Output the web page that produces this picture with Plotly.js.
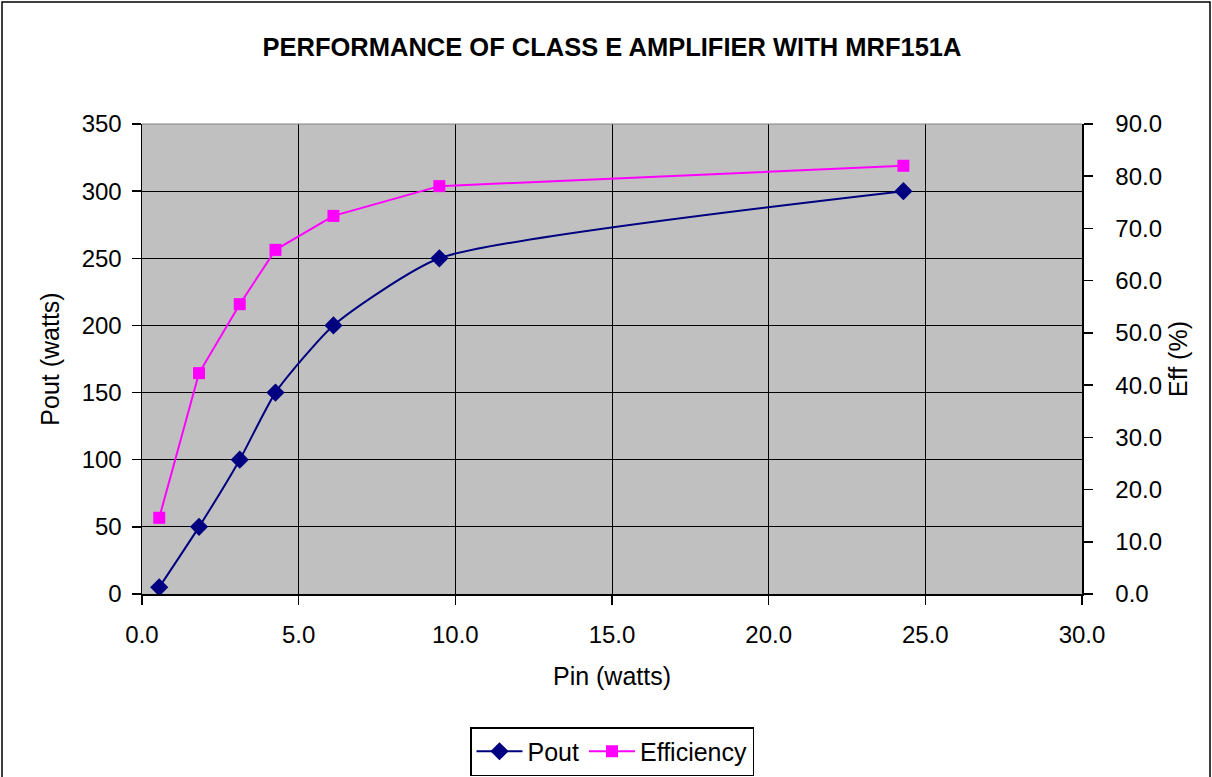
<!DOCTYPE html>
<html>
<head>
<meta charset="utf-8">
<script src="https://cdn.plot.ly/plotly-3.0.1.min.js"></script>
<style>
  html, body { margin: 0; padding: 0; background: #fff; }
  #chart { width: 1212px; height: 777px; }
</style>
</head>
<body>
<div id="chart"></div>
<script>
// Data
const pinWatts   = [0.55, 1.82, 3.12, 4.26, 6.11, 9.49, 24.3];
const poutWatts  = [5, 50, 100, 150, 200, 250, 300];
const efficiency = [14.6, 42.3, 55.5, 65.9, 72.4, 78.1, 82.0];
const xTicks     = [0, 5, 10, 15, 20, 25, 30];
const leftTicks  = [0, 50, 100, 150, 200, 250, 300, 350];
const rightTicks = [0, 10, 20, 30, 40, 50, 60, 70, 80, 90];

const FONT = 'Liberation Sans, Arial, sans-serif';

const traces = [
  {
    x: pinWatts, y: poutWatts, name: 'Pout', type: 'scatter', mode: 'lines+markers',
    line: { color: '#000080', width: 2, shape: 'spline', smoothing: 0.55 },
    marker: { symbol: 'diamond', size: 14, color: '#000080' },
    yaxis: 'y'
  },
  {
    x: pinWatts, y: efficiency, name: 'Efficiency', type: 'scatter', mode: 'lines+markers',
    line: { color: '#FF00FF', width: 2 },
    marker: { symbol: 'square', size: 12, color: '#FF00FF' },
    yaxis: 'y2'
  }
];

const L = 142, R = 1082, T = 124, B = 594, W = 1212, H = 777;
const px = v => (v - L) / (R - L);
const py = v => (B - v) / (B - T);

const layout = {
  width: W, height: H,
  margin: { l: L, r: W - R, t: T, b: H - B, pad: 0, autoexpand: false },
  paper_bgcolor: '#ffffff',
  plot_bgcolor: '#C0C0C0',
  font: { family: FONT, size: 24, color: '#000' },
  showlegend: true,
  title: {
    text: '<b>PERFORMANCE OF CLASS E AMPLIFIER WITH MRF151A</b>',
    font: { family: FONT, size: 25.5, color: '#000' },
    x: 0.5, xanchor: 'center', xref: 'paper',
    y: 1 - 47 / H, yanchor: 'middle', yref: 'container'
  },
  xaxis: {
    range: [0, 30], tickvals: xTicks, tickformat: '.1f', automargin: false,
    showgrid: true, gridcolor: '#000', gridwidth: 1,
    zeroline: false, showline: true, linecolor: '#000', linewidth: 1.5,
    ticks: 'outside', ticklen: 9, tickcolor: '#000', tickwidth: 1.5,
    ticklabelstandoff: 10,
    tickfont: { family: FONT, size: 24 },
    title: { text: 'Pin (watts)', font: { family: FONT, size: 25 }, standoff: 20 }
  },
  yaxis: {
    range: [0, 350], tickvals: leftTicks, automargin: false,
    showgrid: true, gridcolor: '#000', gridwidth: 1,
    zeroline: false, showline: true, linecolor: '#000', linewidth: 1.5,
    ticks: 'outside', ticklen: 9, tickcolor: '#000', tickwidth: 1.5,
    ticklabelstandoff: 5,
    tickfont: { family: FONT, size: 24 },
    title: { text: 'Pout (watts)', font: { family: FONT, size: 25 }, standoff: 15 }
  },
  yaxis2: {
    range: [0, 90], tickvals: rightTicks, tickformat: '.1f', automargin: false,
    overlaying: 'y', side: 'right',
    showgrid: false, zeroline: false, showline: true, linecolor: '#000', linewidth: 1.5,
    ticks: 'outside', ticklen: 9, tickcolor: '#000', tickwidth: 1.5,
    ticklabelstandoff: 18,
    tickfont: { family: FONT, size: 24 },
    title: { text: 'Eff (%)', font: { family: FONT, size: 25 }, standoff: 8 }
  },
  yaxis3: {
    range: [0, 90], tickvals: rightTicks, automargin: false,
    overlaying: 'y', side: 'right',
    showgrid: false, zeroline: false, showline: false,
    ticks: 'inside', ticklen: 9, tickcolor: '#000', tickwidth: 1.5,
    showticklabels: false
  },
  legend: {
    orientation: 'h', x: 0.5, xanchor: 'center', y: py(727), yanchor: 'top',
    bgcolor: '#ffffff', bordercolor: '#000', borderwidth: 1.5,
    font: { family: FONT, size: 25, color: '#000' },
    itemwidth: 46, traceorder: 'normal'
  },
  shapes: [
    {
      type: 'rect', xref: 'paper', yref: 'paper', layer: 'below',
      x0: px(2), x1: px(1210), y0: py(2), y1: py(810),
      line: { color: '#000', width: 1.5 }, fillcolor: 'rgba(0,0,0,0)'
    },
    {
      type: 'line', xref: 'paper', yref: 'paper', layer: 'above',
      x0: 0, x1: 1, y0: 1, y1: 1,
      line: { color: '#808080', width: 1 }
    }
  ]
};

Plotly.newPlot('chart', traces, layout, { staticPlot: true, displayModeBar: false });
</script>
</body>
</html>
